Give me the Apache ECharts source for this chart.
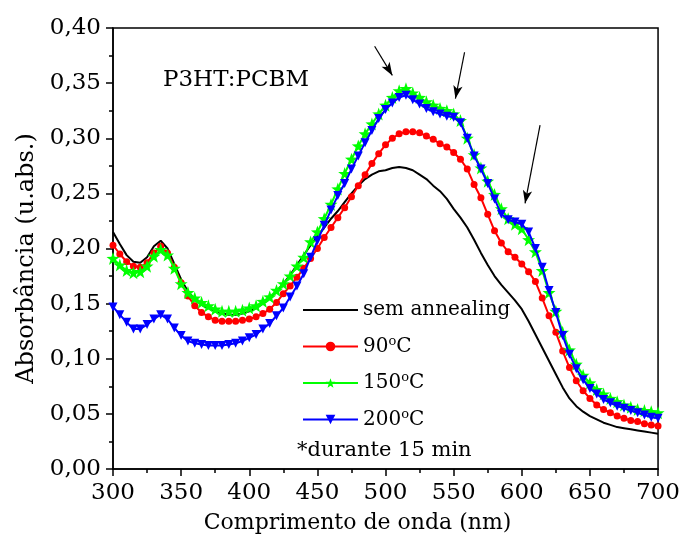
<!DOCTYPE html>
<html>
<head>
<meta charset="utf-8">
<script src="https://cdn.jsdelivr.net/npm/echarts@6/dist/echarts.min.js"></script>
<style>html,body{margin:0;padding:0;background:#fff}#c{width:683px;height:550px}</style>
</head>
<body>
<div id="c"></div>
<script>
const wavelengths = [];
for (let w = 300; w <= 700; w += 5) wavelengths.push(w);

const semAnnealing = [0.215,0.204,0.194,0.188,0.187,0.192,0.202,0.207,0.200,0.186,0.172,0.161,0.154,0.149,0.146,0.143,0.141,0.140,0.140,0.141,0.143,0.146,0.150,0.155,0.161,0.168,0.176,0.185,0.194,0.203,0.211,0.219,0.227,0.234,0.242,0.250,0.257,0.263,0.267,0.270,0.271,0.273,0.274,0.273,0.271,0.267,0.263,0.257,0.252,0.245,0.236,0.228,0.219,0.208,0.196,0.185,0.175,0.167,0.160,0.153,0.145,0.134,0.122,0.110,0.098,0.086,0.074,0.064,0.057,0.052,0.048,0.045,0.042,0.040,0.038,0.037,0.036,0.035,0.034,0.033,0.032];

const t90 = [0.203,0.195,0.188,0.184,0.183,0.187,0.196,0.202,0.196,0.183,0.169,0.157,0.148,0.142,0.138,0.135,0.134,0.134,0.134,0.135,0.136,0.138,0.141,0.145,0.151,0.159,0.166,0.174,0.182,0.191,0.200,0.210,0.219,0.228,0.237,0.247,0.257,0.267,0.277,0.286,0.294,0.300,0.304,0.306,0.306,0.305,0.302,0.299,0.295,0.292,0.287,0.281,0.272,0.258,0.246,0.231,0.216,0.205,0.197,0.192,0.186,0.179,0.170,0.155,0.139,0.124,0.107,0.092,0.080,0.071,0.064,0.058,0.054,0.051,0.048,0.046,0.044,0.043,0.041,0.040,0.039];

const t150 = [0.191,0.185,0.180,0.178,0.179,0.184,0.193,0.199,0.194,0.182,0.168,0.160,0.155,0.151,0.148,0.145,0.143,0.143,0.143,0.144,0.146,0.148,0.152,0.156,0.162,0.168,0.175,0.184,0.192,0.206,0.215,0.227,0.240,0.254,0.268,0.281,0.293,0.304,0.313,0.322,0.330,0.337,0.343,0.345,0.341,0.337,0.333,0.330,0.327,0.325,0.322,0.316,0.300,0.285,0.273,0.261,0.249,0.236,0.227,0.222,0.218,0.208,0.197,0.180,0.160,0.143,0.124,0.108,0.095,0.085,0.078,0.072,0.068,0.064,0.061,0.058,0.056,0.054,0.053,0.052,0.051];

const t200 = [0.147,0.140,0.133,0.127,0.127,0.131,0.136,0.140,0.136,0.128,0.121,0.116,0.114,0.113,0.112,0.112,0.112,0.113,0.114,0.116,0.119,0.122,0.127,0.132,0.139,0.146,0.156,0.166,0.177,0.192,0.207,0.221,0.235,0.248,0.259,0.272,0.284,0.296,0.307,0.318,0.326,0.332,0.337,0.339,0.335,0.331,0.327,0.324,0.322,0.320,0.319,0.314,0.300,0.284,0.272,0.259,0.245,0.231,0.226,0.224,0.222,0.215,0.200,0.183,0.162,0.142,0.121,0.104,0.091,0.081,0.073,0.068,0.063,0.060,0.057,0.055,0.053,0.051,0.049,0.047,0.046];

const seriesNames = ['sem annealing', '90°C', '150°C', '200°C'];
const yTickLabels = ['0,00','0,05','0,10','0,15','0,20','0,25','0,30','0,35','0,40'];

// annotation arrows [from, to] in data units
const arrows = [
  [[492.0, 0.3835], [505.0, 0.357]],
  [[558.0, 0.378], [551.3, 0.336]],
  [[613.4, 0.312], [602.4, 0.241]]
];

const FONT = '"DejaVu Serif", "Liberation Serif", serif';
const pair = arr => wavelengths.map((w, i) => [w, arr[i]]);
const STAR = 'path://M0,-10 L2.35,-3.24 L9.51,-3.09 L3.8,1.24 L5.88,8.09 L0,4 L-5.88,8.09 L-3.8,1.24 L-9.51,-3.09 L-2.35,-3.24 Z';
const LINE_ICON = 'path://M0,0 L55,0 L55,2 L0,2 Z';

const chart = echarts.init(document.getElementById('c'), null, {renderer: 'canvas'});
chart.setOption({
  animation: false,
  backgroundColor: '#fff',
  grid: {left: 113, right: 23, top: 28, bottom: 81, show: true, borderColor: '#000', borderWidth: 1.5, backgroundColor: 'transparent'},
  xAxis: {
    type: 'value', min: 300, max: 700, interval: 50,
    name: 'Comprimento de onda (nm)', nameLocation: 'middle', nameGap: 43,
    nameTextStyle: {fontFamily: FONT, fontSize: 22, color: '#000', padding: [0, 56, 0, 0]},
    axisLine: {show: true, onZero: false, lineStyle: {color: '#000', width: 1.5}},
    axisTick: {show: true, inside: false, length: 7, lineStyle: {color: '#000', width: 1.5}},
    minorTick: {show: true, splitNumber: 2, length: 4, lineStyle: {color: '#000', width: 1.5}},
    axisLabel: {fontFamily: FONT, fontSize: 23, color: '#000', margin: 13},
    splitLine: {show: false}
  },
  yAxis: {
    type: 'value', min: 0, max: 0.40, interval: 0.05,
    name: 'Absorbância (u.abs.)', nameLocation: 'middle', nameGap: 70, nameRotate: 90,
    nameTextStyle: {fontFamily: FONT, fontSize: 24, color: '#000', padding: [0, 20, 0, 0]},
    axisLine: {show: true, lineStyle: {color: '#000', width: 1.5}},
    axisTick: {show: true, inside: false, length: 7, lineStyle: {color: '#000', width: 1.5}},
    minorTick: {show: true, splitNumber: 2, length: 4, lineStyle: {color: '#000', width: 1.5}},
    axisLabel: {fontFamily: FONT, fontSize: 23, color: '#000', margin: 12,
      formatter: v => yTickLabels[Math.round(v / 0.05)]},
    splitLine: {show: false}
  },
  legend: {
    orient: 'vertical', left: 297, top: 295, itemWidth: 55, itemHeight: 12, itemGap: 15,
    textStyle: {fontFamily: FONT, fontSize: 20, color: '#000',
      rich: {sup: {fontFamily: FONT, fontSize: 13, color: '#000', verticalAlign: 'top', padding: [0,0,10,0]},
             n: {fontFamily: FONT, fontSize: 20, color: '#000'}}},
    formatter: name => {
      const m = name.match(/^(\d+)°C$/);
      return m ? '{n|' + m[1] + '}{sup|o}{n|C}' : name;
    },
    data: [{name: seriesNames[0], icon: LINE_ICON}, seriesNames[1], seriesNames[2], seriesNames[3]]
  },
  series: [
    {name: seriesNames[0], type: 'line', data: pair(semAnnealing), showSymbol: false, symbol: 'none',
     lineStyle: {color: '#000', width: 2}, itemStyle: {color: '#000'}, z: 2,
     markLine: {silent: true, symbol: ['none', 'arrow'], symbolSize: [7, 13],
       lineStyle: {color: '#000', width: 1.2, type: 'solid'}, label: {show: false},
       data: arrows.map(a => [{coord: a[0]}, {coord: a[1]}])}},
    {name: seriesNames[1], type: 'line', data: pair(t90), symbol: 'circle', symbolSize: 7, showAllSymbol: true,
     lineStyle: {color: '#ff0000', width: 2}, itemStyle: {color: '#ff0000'}, z: 3},
    {name: seriesNames[2], type: 'line', data: pair(t150), symbol: STAR, symbolSize: 13, showAllSymbol: true,
     lineStyle: {color: '#00ff00', width: 2}, itemStyle: {color: '#00ff00'}, z: 4},
    {name: seriesNames[3], type: 'line', data: pair(t200), symbol: 'triangle', symbolRotate: 180, symbolSize: 9, showAllSymbol: true,
     lineStyle: {color: '#0000ff', width: 2}, itemStyle: {color: '#0000ff'}, z: 5}
  ],
  graphic: [
    {type: 'text', left: 163, top: 69, style: {text: 'P3HT:PCBM', font: '23px ' + FONT, fill: '#000'}},
    {type: 'text', left: 297, top: 440, style: {text: '*durante 15 min', font: '21px ' + FONT, fill: '#000'}}
  ]
});
</script>
</body>
</html>
